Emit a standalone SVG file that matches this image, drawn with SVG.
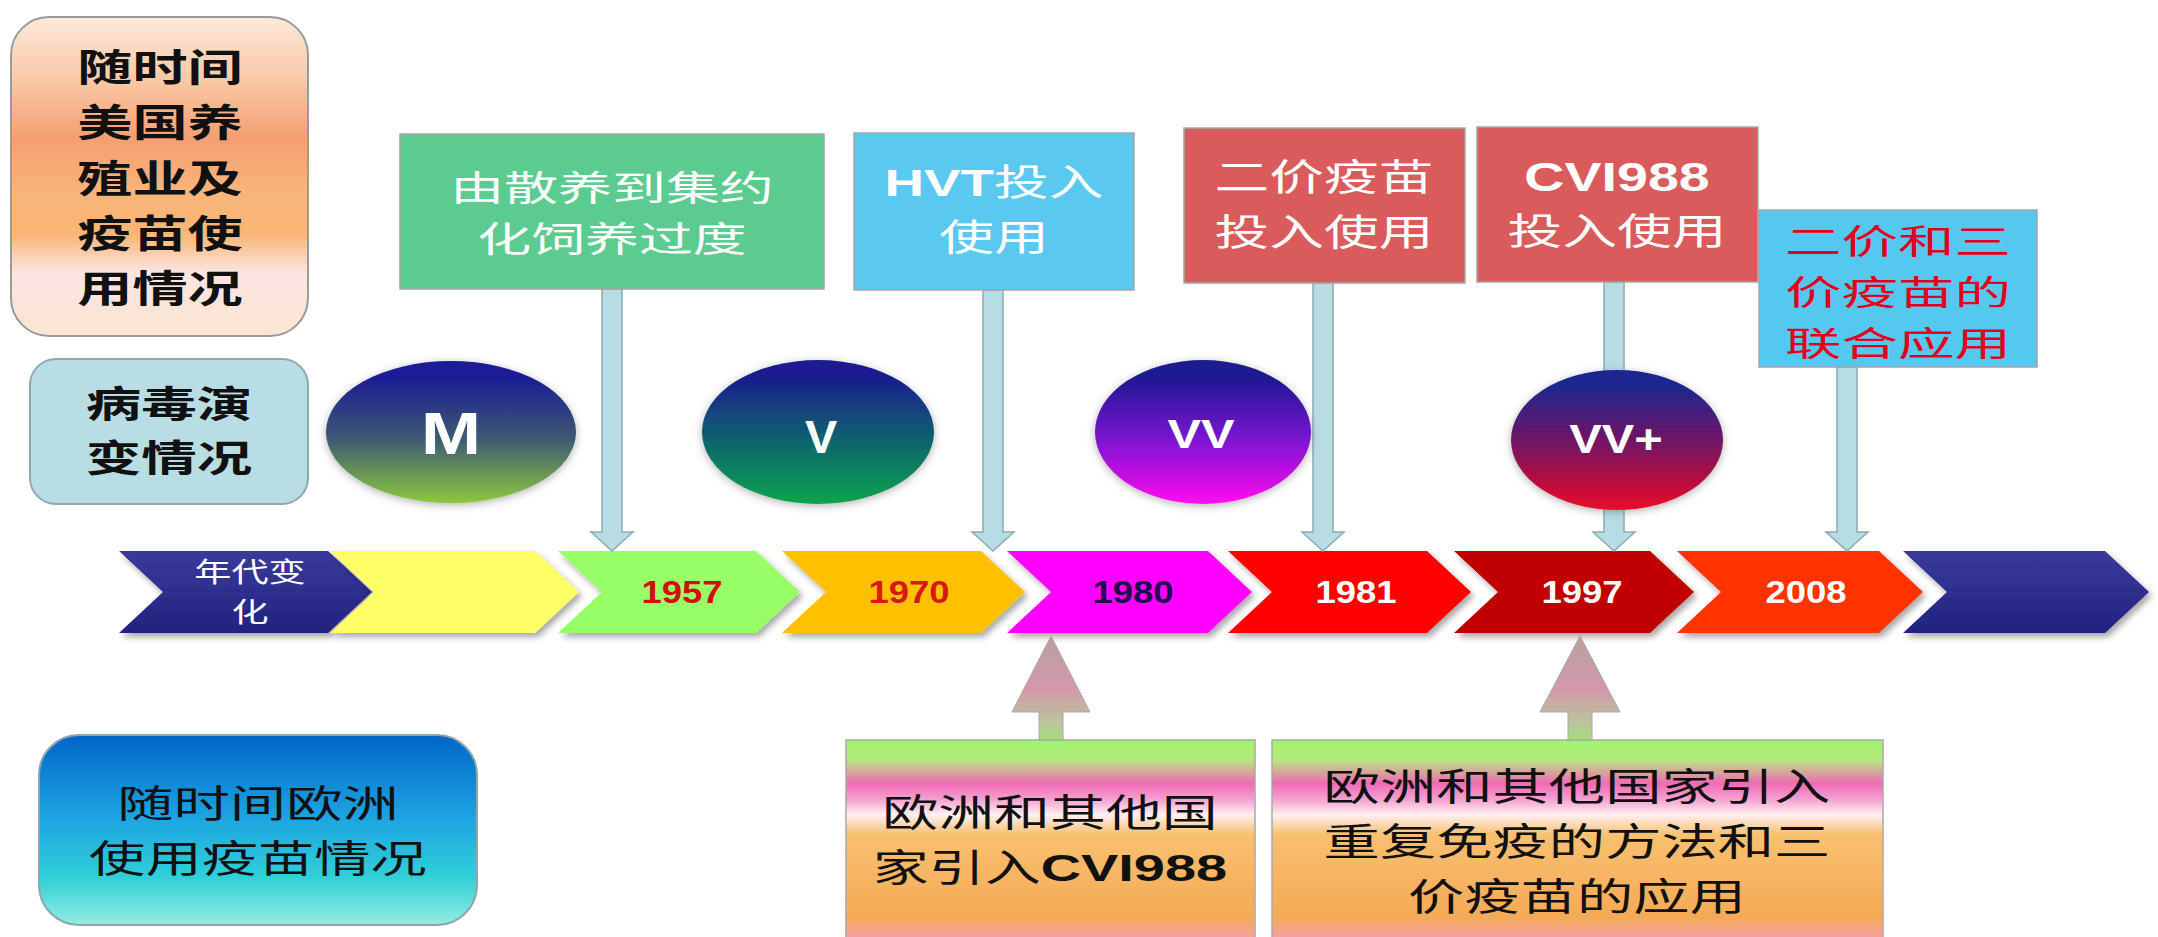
<svg xmlns="http://www.w3.org/2000/svg" width="2158" height="937" viewBox="0 0 2158 937">
<defs>
<style>
.cjk{font-family:'Noto Sans CJK SC',sans-serif;text-anchor:middle}
.lat{font-family:'Liberation Sans',Arial,sans-serif;font-weight:bold}
.w{fill:#ffffff}
.k{fill:#111111}
.box{stroke:#a6a6a6;stroke-width:1.5}
.dn{fill:#b8dce4;stroke:#8aaab4;stroke-width:1.5}
.chev{filter:url(#sh)}
.yr{font-family:'Liberation Sans',Arial,sans-serif;font-weight:bold;font-size:32px;text-anchor:middle}
</style>
<filter id="sh" x="-10%" y="-20%" width="130%" height="150%"><feDropShadow dx="3" dy="4" stdDeviation="3" flood-color="#000" flood-opacity="0.35"/></filter>
<filter id="glow" x="-15%" y="-15%" width="130%" height="135%"><feDropShadow dx="0" dy="2" stdDeviation="4" flood-color="#555" flood-opacity="0.45"/></filter>
<linearGradient id="gTL" x1="0" y1="0" x2="0" y2="1">
<stop offset="0" stop-color="#fde9da"/><stop offset="0.2" stop-color="#f9c8a5"/><stop offset="0.38" stop-color="#f59e72"/><stop offset="0.55" stop-color="#f8b57a"/><stop offset="0.68" stop-color="#f9b573"/><stop offset="0.8" stop-color="#fbe4e2"/><stop offset="1" stop-color="#fbe6d2"/>
</linearGradient>
<linearGradient id="gBL" x1="0" y1="0" x2="0" y2="1">
<stop offset="0" stop-color="#0066c8"/><stop offset="0.45" stop-color="#1ea6e2"/><stop offset="0.75" stop-color="#30d0d8"/><stop offset="1" stop-color="#94ece0"/>
</linearGradient>
<linearGradient id="gM" x1="0" y1="0" x2="0" y2="1"><stop offset="0.1" stop-color="#1a1a96"/><stop offset="0.55" stop-color="#3e5a72"/><stop offset="1" stop-color="#8cc83c"/></linearGradient>
<linearGradient id="gV" x1="0" y1="0" x2="0" y2="1"><stop offset="0.1" stop-color="#1a1a90"/><stop offset="0.55" stop-color="#0f6270"/><stop offset="1" stop-color="#08a44c"/></linearGradient>
<linearGradient id="gVV" x1="0" y1="0" x2="0" y2="1"><stop offset="0.1" stop-color="#1a1a90"/><stop offset="0.55" stop-color="#7a12d0"/><stop offset="1" stop-color="#ff10f0"/></linearGradient>
<linearGradient id="gVVp" x1="0" y1="0" x2="0" y2="1"><stop offset="0.1" stop-color="#1a2890"/><stop offset="0.55" stop-color="#7a1260"/><stop offset="1" stop-color="#ea1028"/></linearGradient>
<linearGradient id="gUp" gradientUnits="userSpaceOnUse" x1="0" y1="636" x2="0" y2="741">
<stop offset="0" stop-color="#b8a0a0"/><stop offset="0.5" stop-color="#d498ac"/><stop offset="0.85" stop-color="#b8c898"/><stop offset="1" stop-color="#a4e07c"/>
</linearGradient>
<linearGradient id="gCall" gradientUnits="userSpaceOnUse" x1="0" y1="740" x2="0" y2="937">
<stop offset="0" stop-color="#9ef56e"/><stop offset="0.1" stop-color="#b8e880"/><stop offset="0.22" stop-color="#f06ab4"/><stop offset="0.3" stop-color="#f4a0d0"/><stop offset="0.38" stop-color="#fff0f0"/><stop offset="0.48" stop-color="#f8c070"/><stop offset="0.9" stop-color="#f5aa55"/><stop offset="1" stop-color="#f5a0a0"/>
</linearGradient>
<linearGradient id="gNavy" x1="0" y1="0" x2="0" y2="1"><stop offset="0" stop-color="#3a3a9c"/><stop offset="1" stop-color="#22227e"/></linearGradient>
</defs>
<rect width="2158" height="937" fill="#ffffff"/>

<!-- timeline chevrons -->
<g id="timeline">
<polygon class="chev" points="119,551 328,551 372,592 328,633 119,633 163,592" fill="url(#gNavy)"/>
<polygon class="chev" points="330,551 535,551 579,592 535,633 330,633 374,592" fill="#ffff66"/>
<polygon class="chev" points="558,551 756,551 800,592 756,633 558,633 602,592" fill="#99ff66"/>
<polygon class="chev" points="782,551 981,551 1025,592 981,633 782,633 826,592" fill="#ffc000"/>
<polygon class="chev" points="1007,551 1208,551 1252,592 1208,633 1007,633 1051,592" fill="#ff00ff"/>
<polygon class="chev" points="1228,551 1427,551 1471,592 1427,633 1228,633 1272,592" fill="#ff0000"/>
<polygon class="chev" points="1454,551 1650,551 1694,592 1650,633 1454,633 1498,592" fill="#c00000"/>
<polygon class="chev" points="1677,551 1879,551 1923,592 1879,633 1677,633 1721,592" fill="#ff3300"/>
<polygon class="chev" points="1903,551 2105,551 2149,592 2105,633 1903,633 1947,592" fill="url(#gNavy)"/>
<text class="cjk w" font-size="27.5" transform="translate(250,0) scale(1.35,1)" x="0" y="582">年代变<tspan x="0" dy="40">化</tspan></text>
<text class="yr" fill="#d01010" transform="translate(682,0) scale(1.14,1)" x="0" y="603">1957</text>
<text class="yr" fill="#d81818" transform="translate(909,0) scale(1.14,1)" x="0" y="603">1970</text>
<text class="yr" fill="#200a50" transform="translate(1133,0) scale(1.14,1)" x="0" y="603">1980</text>
<text class="yr" fill="#ffffff" transform="translate(1356,0) scale(1.14,1)" x="0" y="603">1981</text>
<text class="yr" fill="#ffffff" transform="translate(1582,0) scale(1.14,1)" x="0" y="603">1997</text>
<text class="yr" fill="#ffffff" transform="translate(1806,0) scale(1.14,1)" x="0" y="603">2008</text>
</g>

<!-- connectors -->
<g id="connectors">
<polygon class="dn" points="602,289 622,289 622,532 633,532 612,551 591,532 602,532"/>
<polygon class="dn" points="983,290 1003,290 1003,532 1014,532 993,551 972,532 983,532"/>
<polygon class="dn" points="1313,283 1333,283 1333,532 1344,532 1323,551 1302,532 1313,532"/>
<polygon class="dn" points="1604,282 1624,282 1624,532 1635,532 1614,551 1593,532 1604,532"/>
<polygon class="dn" points="1837,367 1857,367 1857,532 1868,532 1847,551 1826,532 1837,532"/>
<polygon points="1051,636 1090,712 1063,712 1063,741 1039,741 1039,712 1012,712" fill="url(#gUp)" stroke="#a8a8a8" stroke-width="1"/>
<polygon points="1580,636 1620,712 1592,712 1592,741 1568,741 1568,712 1540,712" fill="url(#gUp)" stroke="#a8a8a8" stroke-width="1"/>
</g>

<g id="us-header">
<rect x="11" y="17" width="297" height="319" rx="38" fill="url(#gTL)" stroke="#9a9a9a" stroke-width="2"/>
<text class="cjk k" font-size="37.5" font-weight="700" transform="translate(160,0) scale(1.47,1)" x="0" y="81">随时间<tspan x="0" dy="55">美国养</tspan><tspan x="0" dy="56">殖业及</tspan><tspan x="0" dy="55">疫苗使</tspan><tspan x="0" dy="55">用情况</tspan></text>
</g>

<g id="virus-header">
<rect x="30" y="359" width="278" height="145" rx="26" fill="#b8dde5" stroke="#8fa9b0" stroke-width="2"/>
<text class="cjk k" font-size="37" font-weight="700" transform="translate(169,0) scale(1.5,1)" x="0" y="418">病毒演<tspan x="0" dy="54">变情况</tspan></text>
</g>

<g id="virus-M">
<ellipse cx="451" cy="432" rx="125" ry="71" fill="url(#gM)" filter="url(#glow)"/>
<text class="lat w" font-size="60" text-anchor="middle" transform="translate(451,0) scale(1.2,1)" x="0" y="454">M</text>
</g>
<g id="virus-V">
<ellipse cx="818" cy="432" rx="116" ry="72" fill="url(#gV)" filter="url(#glow)"/>
<text class="lat w" font-size="46" text-anchor="middle" transform="translate(821,0) scale(1.05,1)" x="0" y="453">V</text>
</g>
<g id="virus-VV">
<ellipse cx="1203" cy="432" rx="108" ry="72" fill="url(#gVV)" filter="url(#glow)"/>
<text class="lat w" font-size="40" text-anchor="middle" transform="translate(1201,0) scale(1.26,1)" x="0" y="448">VV</text>
</g>
<g id="virus-VVplus">
<ellipse cx="1617" cy="440" rx="106" ry="70" fill="url(#gVVp)" filter="url(#glow)"/>
<text class="lat w" font-size="40" text-anchor="middle" transform="translate(1616,0) scale(1.22,1)" x="0" y="453">VV+</text>
</g>

<g id="box-intensive">
<rect class="box" x="400" y="134" width="424" height="155" fill="#5ccb8f"/>
<text class="cjk w" font-size="35" transform="translate(612,0) scale(1.54,1)" x="0" y="201">由散养到集约<tspan x="0" dy="51">化饲养过度</tspan></text>
</g>

<g id="box-hvt">
<rect class="box" x="854" y="133" width="280" height="157" fill="#5bc8f0"/>
<text class="cjk w" font-size="37.5" transform="translate(994,0) scale(1.46,1)" x="0" y="196"><tspan class="lat">HVT</tspan>投入<tspan x="0" dy="55">使用</tspan></text>
</g>

<g id="box-bivalent">
<rect class="box" x="1184" y="128" width="281" height="155" fill="#d95b5b"/>
<text class="cjk w" font-size="37.5" transform="translate(1324,0) scale(1.46,1)" x="0" y="191">二价疫苗<tspan x="0" dy="55">投入使用</tspan></text>
</g>

<g id="box-cvi988">
<rect class="box" x="1477" y="127" width="281" height="155" fill="#d95b5b"/>
<text class="lat w" font-size="40" text-anchor="middle" transform="translate(1617,0) scale(1.39,1)" x="0" y="191">CVI988</text>
<text class="cjk w" font-size="37.5" transform="translate(1617,0) scale(1.46,1)" x="0" y="245">投入使用</text>
</g>

<g id="box-combined">
<rect class="box" x="1759" y="210" width="278" height="157" fill="#55c8f0"/>
<text class="cjk" fill="#e4001c" font-size="34.5" transform="translate(1898,0) scale(1.64,1)" x="0" y="254">二价和三<tspan x="0" dy="51">价疫苗的</tspan><tspan x="0" dy="51">联合应用</tspan></text>
</g>

<g id="eu-header">
<rect x="39" y="735" width="438" height="190" rx="40" fill="url(#gBL)" stroke="#8aa6ae" stroke-width="2"/>
<text class="cjk k" font-size="37.8" transform="translate(258,0) scale(1.49,1)" x="0" y="817">随时间欧洲<tspan x="0" dy="55">使用疫苗情况</tspan></text>
</g>

<g id="eu-cvi988">
<rect x="846" y="740" width="409" height="220" fill="url(#gCall)" stroke="#a8a8a8" stroke-width="1.5"/>
<text class="cjk k" font-size="37.8" transform="translate(1050,0) scale(1.48,1)" x="0" y="826">欧洲和其他国<tspan x="0" dy="55">家引入</tspan><tspan class="lat">CVI988</tspan></text>
</g>

<g id="eu-repeat">
<rect x="1272" y="740" width="611" height="220" fill="url(#gCall)" stroke="#a8a8a8" stroke-width="1.5"/>
<text class="cjk k" font-size="37.8" transform="translate(1577,0) scale(1.49,1)" x="0" y="800">欧洲和其他国家引入<tspan x="0" dy="55">重复免疫的方法和三</tspan><tspan x="0" dy="55">价疫苗的应用</tspan></text>
</g>
</svg>
